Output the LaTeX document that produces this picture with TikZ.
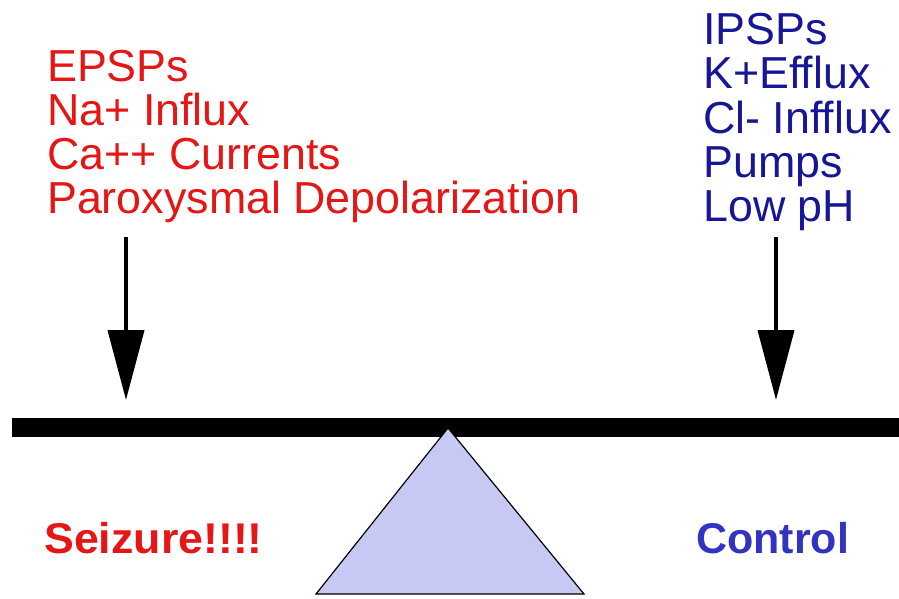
\documentclass[tikz,border=0pt]{standalone}
\usepackage{fontspec}
\setmainfont{Liberation Sans}
\usetikzlibrary{arrows.meta}
\definecolor{exred}{RGB}{228,22,22}
\definecolor{inblue}{RGB}{22,22,150}
\definecolor{ctlblue}{RGB}{50,50,195}
\definecolor{lav}{RGB}{200,200,245}
\tikzset{
  exline/.style={anchor=base west, inner sep=0pt, text=exred, font=\fontsize{44.8}{44.8}\selectfont},
  inline/.style={anchor=base west, inner sep=0pt, text=inblue, font=\fontsize{44.8}{44.8}\selectfont},
  outcome/.style={anchor=base west, inner sep=0pt, font=\fontsize{43}{43}\selectfont\bfseries},
  force/.style={line width=4pt, -{Triangle[length=70pt,width=36pt]}},
}
\begin{document}
\begin{tikzpicture}[x=1pt,y=-1pt]
\useasboundingbox (0,0) rectangle (899,599);
% left (excitatory) list
\node[exline] (ex1) at (47,82) {EPSPs};
\node[exline] (ex2) at (47,125) {Na+ Influx};
\node[exline] (ex3) at (47,169) {Ca++ Currents};
\node[exline] (ex4) at (47,213) {Paroxysmal Depolarization};
% right (inhibitory) list
\node[inline] (in1) at (703,45) {IPSPs};
\node[inline] (in2) at (703,89) {K+Efflux};
\node[inline] (in3) at (703,133) {Cl- Infflux};
\node[inline] (in4) at (703,177) {Pumps};
\node[inline] (in5) at (703,221) {Low pH};
% arrows
\coordinate (ls) at (126,237);
\coordinate (lt) at (126,400);
\coordinate (rs) at (776,237);
\coordinate (rt) at (776,400);
\draw[force] (ls) -- (lt);
\draw[force] (rs) -- (rt);
% beam
\fill[black] (12,418) rectangle (899,437);
% fulcrum
\filldraw[fill=lav, draw=black, line width=1.2pt] (448,428) -- (584,594) -- (316,594) -- cycle;
% outcomes
\node[outcome, text=exred, xscale=1.04] (sz) at (44,553) {Seizure!!!!};
\node[outcome, text=ctlblue] (ctl) at (696,553) {Control};
\end{tikzpicture}
\end{document}
